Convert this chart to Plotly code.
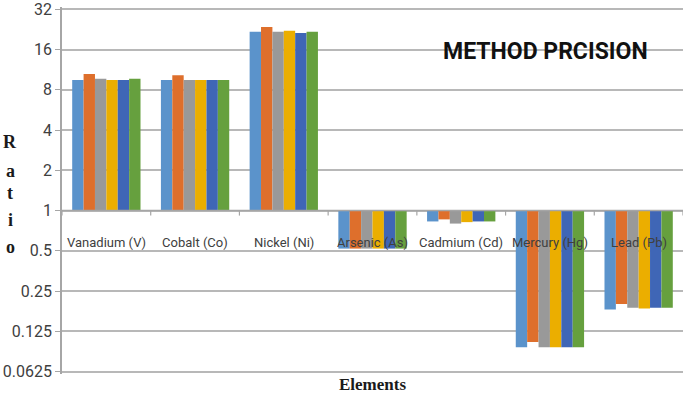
import math
import plotly.graph_objects as go

elements = ['Vanadium (V)', 'Cobalt (Co)', 'Nickel (Ni)', 'Arsenic (As)',
            'Cadmium (Cd)', 'Mercury (Hg)', 'Lead (Pb)']

# ratio per element for the six series
s1 = [9.5, 9.5, 21.8, 0.52, 0.83, 0.095, 0.182]
s2 = [10.5, 10.3, 23.6, 0.52, 0.86, 0.104, 0.200]
s3 = [9.7, 9.5, 21.8, 0.52, 0.80, 0.095, 0.188]
s4 = [9.5, 9.5, 22.2, 0.52, 0.82, 0.095, 0.185]
s5 = [9.5, 9.5, 21.3, 0.52, 0.83, 0.095, 0.188]
s6 = [9.7, 9.5, 21.8, 0.52, 0.83, 0.095, 0.188]

series = [s1, s2, s3, s4, s5, s6]
colors = ['#5B93CB', '#DE6F2C', '#999999', '#EBAE00', '#3F66B6', '#66A03E']

yticks = [32, 16, 8, 4, 2, 1, 0.5, 0.25, 0.125, 0.0625]
ytick_text = ['32', '16', '8', '4', '2', '1', '0.5', '0.25', '0.125', '0.0625']

x = list(range(len(elements)))

W, H = 685, 400
L, R, T, B = 62, 2, 0, 26
PAD = 0.018  # a little room so the end gridlines are kept

fig = go.Figure()
for vals, c in zip(series, colors):
    fig.add_trace(go.Bar(
        x=x,
        y=[v - 1 for v in vals],
        base=1,
        marker=dict(color=c, line=dict(width=0)),
        showlegend=False,
        hoverinfo='skip',
    ))

# horizontal category axis crossing at 1, with ticks between categories
fig.add_trace(go.Scatter(x=[-0.5, len(elements) - 0.5], y=[1, 1], mode='lines',
                         line=dict(color='#A6A6A6', width=1.5),
                         showlegend=False, hoverinfo='skip'))
tx, ty = [], []
for i in range(len(elements) + 1):
    tx += [i - 0.5, i - 0.5, None]
    ty += [1, 2 ** (-5 / 40.7), None]
fig.add_trace(go.Scatter(x=tx, y=ty, mode='lines',
                         line=dict(color='#A6A6A6', width=1.2),
                         showlegend=False, hoverinfo='skip'))

# category labels sit just above the 0.5 gridline
for i, name in enumerate(elements):
    fig.add_annotation(x=i, y=math.log10(0.58), xref='x', yref='y', text=name,
                       showarrow=False,
                       font=dict(family='Roboto, sans-serif', size=13, color='#404040'))


def px(xp, yp):
    # window pixel -> paper coords
    return ((xp - L) / (W - L - R), (H - yp - B) / (H - T - B))


# stacked "Ratio" axis title
for letter, yy in zip('Ratio', [138, 167, 190, 217, 245]):
    ax_, ay_ = px(10, yy)
    fig.add_annotation(x=ax_, y=ay_, xref='paper', yref='paper',
                       xanchor='center', yanchor='middle', text='<b>' + letter + '</b>',
                       showarrow=False,
                       font=dict(family='Liberation Serif, serif', size=18, color='#1a1a1a'))

ax_, ay_ = px(372, 385)
fig.add_annotation(x=ax_, y=ay_, xref='paper', yref='paper', text='<b>Elements</b>',
                   showarrow=False, xanchor='center', yanchor='middle',
                   font=dict(family='Liberation Serif, serif', size=17, color='#1a1a1a'))

ax_, ay_ = px(545, 45)
fig.add_annotation(x=ax_, y=ay_, xref='paper', yref='paper', text='<b>METHOD PRCISION</b>',
                   showarrow=False, xanchor='center', yanchor='middle',
                   font=dict(family='Roboto, sans-serif', size=23, color='#111111'))

fig.update_layout(
    width=W, height=H,
    margin=dict(l=L, r=R, t=T, b=B),
    paper_bgcolor='white', plot_bgcolor='white',
    barmode='group', bargap=0.23, bargroupgap=0,
    font=dict(family='Roboto, sans-serif', size=16, color='#404040'),
)
fig.update_xaxes(range=[-0.5, len(elements) - 0.5], showticklabels=False,
                 showgrid=False, zeroline=False, showline=False, ticks='')
fig.update_yaxes(type='log', range=[math.log10(0.0625) - PAD, math.log10(32) + PAD],
                 tickvals=yticks, ticktext=ytick_text, ticklabeloverflow='allow',
                 showgrid=True, gridcolor='#B8B8B8', gridwidth=1.5,
                 showline=True, linecolor='#A6A6A6', linewidth=1.5,
                 ticks='outside', ticklen=5, tickcolor='#A6A6A6',
                 zeroline=False)

fig.write_html('out.html', config={'displayModeBar': False},
               post_script="document.body.style.margin='0';")
